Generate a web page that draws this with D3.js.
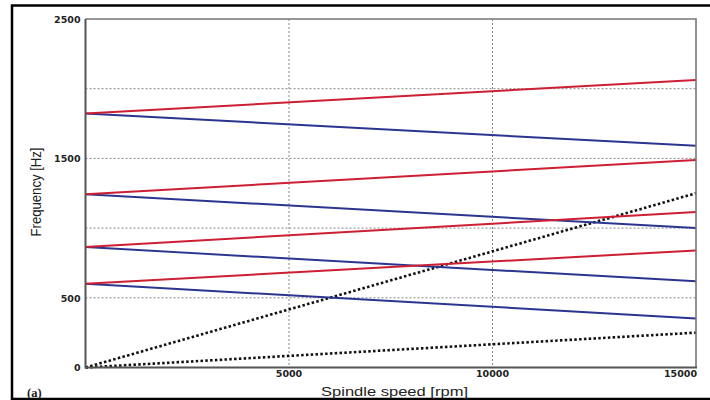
<!doctype html>
<html>
<head>
  <meta charset="UTF-8">
  <title>Spindle speed vs frequency</title>
  <style type="text/css">
    body { margin: 0; background: #fff; }
    svg { display: block; }
    .tick-label { font-family: "DejaVu Sans", Verdana, sans-serif; font-size: 9.5px; font-weight: bold; fill: #222; }
    .axis-title { font-family: "Liberation Sans", Arial, sans-serif; font-size: 13.5px; fill: #222; }
  </style>
  <script src="https://cdn.jsdelivr.net/npm/d3@7/dist/d3.min.js"></script>
</head>
<body>
<div id="chart"></div>
<script>
  // spindle speed [rpm] at the two ends of every line
  var speed = [0, 15000];

  // natural frequencies [Hz], forward (red) and backward (blue) whirl
  var forward = [
    [1822, 2062],
    [1243, 1489],
    [864, 1116],
    [601, 840]
  ];
  var backward = [
    [1822, 1590],
    [1243, 1000],
    [864, 618],
    [601, 352]
  ];
  // excitation lines (dotted)
  var excitation = [
    [0, 250],
    [0, 1250]
  ];

  var xTicks = [5000, 10000, 15000];
  var yGrid = [500, 1000, 1500, 2000];
  var yLabels = [0, 500, 1500, 2500];

  var w = 710,
    h = 400,
    pLeft = 85.5,
    pRight = 696,
    pTop = 19,
    pBottom = 367.5;

  var x = d3.scaleLinear().domain([0, 15000]).range([pLeft, pRight]),
    y = d3.scaleLinear().domain([0, 2500]).range([pBottom, pTop]);

  var svg = d3.select("#chart").append("svg")
    .attr("width", w)
    .attr("height", h);

  // outer frame (right side runs off the picture)
  svg.append("path")
    .attr("d", "M712,5.5H12V399H712")
    .attr("fill", "none")
    .attr("stroke", "#000")
    .attr("stroke-width", 2.5);

  // grid
  svg.selectAll(".vgrid")
    .data(xTicks.filter(function(d) { return d < 15000; }))
    .enter().append("line")
    .attr("x1", function(d) { return x(d); })
    .attr("x2", function(d) { return x(d); })
    .attr("y1", pTop)
    .attr("y2", pBottom)
    .attr("stroke", "#888")
    .attr("stroke-width", 1)
    .attr("stroke-dasharray", "2,2");

  svg.selectAll(".hgrid")
    .data(yGrid)
    .enter().append("line")
    .attr("x1", pLeft)
    .attr("x2", pRight)
    .attr("y1", function(d) { return y(d); })
    .attr("y2", function(d) { return y(d); })
    .attr("stroke", "#888")
    .attr("stroke-width", 1)
    .attr("stroke-dasharray", "2,2");

  var line = d3.line()
    .x(function(d, i) { return x(speed[i]); })
    .y(function(d) { return y(d); });

  svg.selectAll(".exc")
    .data(excitation)
    .enter().append("path")
    .attr("d", line)
    .attr("fill", "none")
    .attr("stroke", "#111")
    .attr("stroke-width", 2.6)
    .attr("stroke-dasharray", "2.5,2.3");

  svg.selectAll(".bw")
    .data(backward)
    .enter().append("path")
    .attr("d", line)
    .attr("fill", "none")
    .attr("stroke", "#2b3590")
    .attr("stroke-width", 2);

  svg.selectAll(".fw")
    .data(forward)
    .enter().append("path")
    .attr("d", line)
    .attr("fill", "none")
    .attr("stroke", "#cc1f33")
    .attr("stroke-width", 2);

  // plot frame
  svg.append("path")
    .attr("d", "M" + pLeft + "," + pTop + "H" + pRight + "V" + pBottom)
    .attr("fill", "none")
    .attr("stroke", "#777")
    .attr("stroke-width", 1.6);
  svg.append("path")
    .attr("d", "M" + pLeft + "," + pTop + "V" + pBottom + "H" + (pRight + 1))
    .attr("fill", "none")
    .attr("stroke", "#555")
    .attr("stroke-width", 2);

  // tick labels
  svg.selectAll(".xLabel")
    .data(xTicks)
    .enter().append("text")
    .attr("class", "tick-label")
    .attr("x", function(d) { return d === 15000 ? x(d) + 1 : x(d); })
    .attr("y", 377)
    .attr("text-anchor", function(d) { return d === 15000 ? "end" : "middle"; })
    .text(String);

  svg.selectAll(".yLabel")
    .data(yLabels)
    .enter().append("text")
    .attr("class", "tick-label")
    .attr("x", 80.5)
    .attr("y", function(d) { return y(d) + 3.8; })
    .attr("text-anchor", "end")
    .text(String);

  // axis titles
  svg.append("text")
    .attr("class", "axis-title")
    .attr("x", 394.5)
    .attr("y", 396)
    .attr("text-anchor", "middle")
    .attr("textLength", 147)
    .attr("lengthAdjust", "spacingAndGlyphs")
    .text("Spindle speed [rpm]");

  svg.append("text")
    .attr("class", "axis-title")
    .attr("transform", "translate(40.5,192) rotate(-90)")
    .attr("text-anchor", "middle")
    .style("font-size", "15.5px")
    .attr("textLength", 89)
    .attr("lengthAdjust", "spacingAndGlyphs")
    .text("Frequency [Hz]");

  svg.append("text")
    .attr("x", 27)
    .attr("y", 396.5)
    .attr("font-family", "Liberation Serif, serif")
    .attr("font-size", "12.5px")
    .attr("font-weight", "bold")
    .attr("fill", "#222")
    .text("(a)");
</script>
</body>
</html>
